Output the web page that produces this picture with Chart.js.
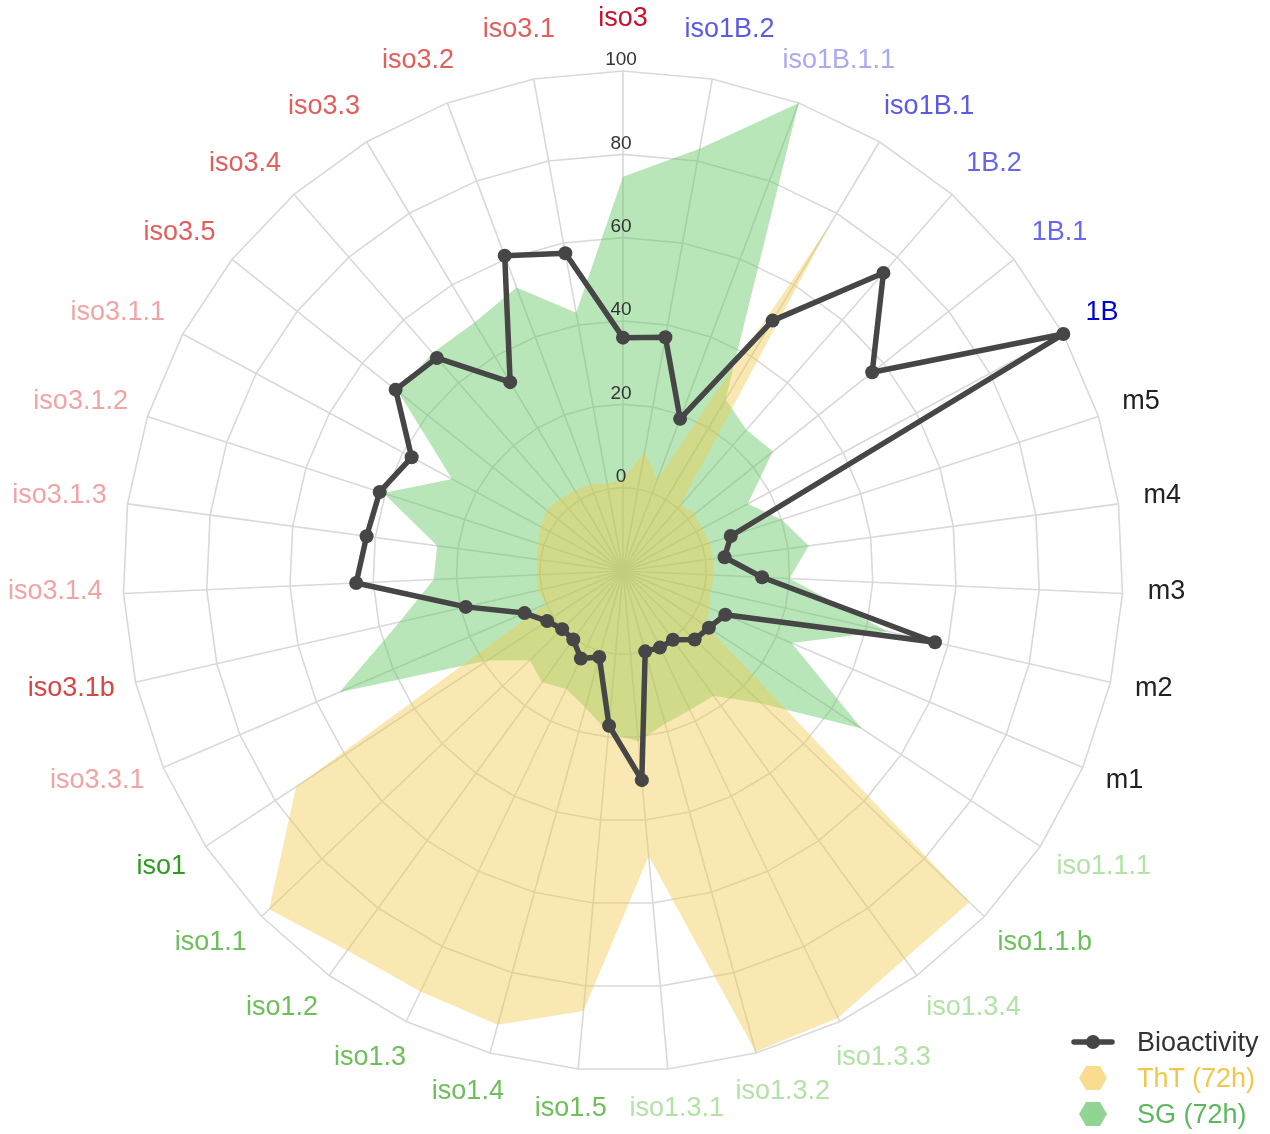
<!DOCTYPE html>
<html>
<head>
<meta charset="utf-8">
<script src="https://cdn.jsdelivr.net/npm/chart.js@4.4.1/dist/chart.umd.min.js"></script>
<style>
  html, body { margin: 0; padding: 0; background: #fff; }
  #wrap { position: relative; width: 1270px; height: 1134px; }
  #legend {
    position: absolute; left: 1070px; top: 1024px;
    font-family: "Liberation Sans", Arial, sans-serif; font-size: 27px;
  }
  .row { display: flex; align-items: center; height: 36px; white-space: nowrap; }
  .sym { width: 46px; height: 30px; margin-right: 21px; }
</style>
</head>
<body>
<div id="wrap">
  <canvas id="radar" width="1270" height="1134"></canvas>
  <div id="legend"></div>
</div>
<script>
const categories = ['iso3', 'iso1B.2', 'iso1B.1.1', 'iso1B.1', '1B.2', '1B.1', '1B',
  'm5', 'm4', 'm3', 'm2', 'm1',
  'iso1.1.1', 'iso1.1.b', 'iso1.3.4', 'iso1.3.3', 'iso1.3.2', 'iso1.3.1',
  'iso1.5', 'iso1.4', 'iso1.3', 'iso1.2', 'iso1.1', 'iso1',
  'iso3.3.1', 'iso3.1b', 'iso3.1.4', 'iso3.1.3', 'iso3.1.2', 'iso3.1.1',
  'iso3.5', 'iso3.4', 'iso3.3', 'iso3.2', 'iso3.1'];

const bioactivity = [36, 37, 19, 50, 75, 56.5, 100, 7.2, 4.6, 13.4, 56.8, 6.7,
  4.7, 3.8, 0.4, 0.4, 0, 30.4, 17.3, 1.4, 3.3, 0.3, 0.2, 1.8,
  5.7, 18.7, 44.1, 42.1, 41.4, 37.6, 49.8, 47.9, 32.8, 60.8, 57.5];

const thtValues = [2, 9, 3.5, 77, 1, 2, 1.6, 2, 1.8, 2, 1.6, 2.5,
  4, 95, 95, 99, 99.7, 48.7, 86, 93, 92, 92.6, 97.5, 74,
  0, 1, 0.6, 1, 1.4, 2.6, 3.4, 3, 2.5, 2.3, 1.3];

const sgValues = [74.6, 83, 100, 28, 25, 26, 14, 20, 25, 20, 45, 24,
  48.6, 26, 17, 17, 18, 21, 19, 14, 11.4, 13, 11, 19,
  54, 35, 25.5, 25, 40.5, 26.6, 49, 49.5, 49.5, 52.7, 43];

const tickValues = [0, 20, 40, 60, 80, 100];

// colour of each category label, same order as categories
const labelColors = ['#c8102e', '#5a5ae6', '#a9a9f2', '#5a5ae6', '#6666ee', '#6666ee', '#0000d8',
  '#222', '#222', '#222', '#222', '#222',
  '#b3e2a6', '#6cbf5a', '#b3e2a6', '#b3e2a6', '#b3e2a6', '#b3e2a6',
  '#6cbf5a', '#6cbf5a', '#6cbf5a', '#6cbf5a', '#6cbf5a', '#2a9d1e',
  '#f2a3a3', '#d94444', '#f2a3a3', '#f2a3a3', '#f2a3a3', '#f2a3a3',
  '#e35d5d', '#e35d5d', '#e35d5d', '#e35d5d', '#e35d5d'];

const FONT = '"Liberation Sans", Arial, sans-serif';

// tick numbers sit just above their ring, category names outside the last ring
const axisText = {
  id: 'axisText',
  afterDraw(chart) {
    const scale = chart.scales.r;
    const ctx = chart.ctx;
    ctx.save();
    ctx.textAlign = 'center';
    ctx.textBaseline = 'middle';

    ctx.font = '19px ' + FONT;
    ctx.fillStyle = '#333';
    tickValues.forEach(v => {
      const p = scale.getPointPositionForValue(0, v);
      ctx.fillText(String(v), p.x - 2, p.y - 11);
    });

    ctx.font = '27px ' + FONT;
    categories.forEach((name, i) => {
      const a = scale.getIndexAngle(i);
      const s = Math.sin(a), c = Math.cos(a);
      const w = ctx.measureText(name).width;
      const p = scale.getPointPosition(i, scale.drawingArea + 28);
      // push the text sideways so it hangs off the anchor like the original
      const shift = 0.85 * Math.min(1, 1.8 * Math.abs(s));
      const dy = c > 0 ? -4 - 8 * c - 120 * Math.max(0, c - 0.9) : -4 - 16 * c;
      ctx.fillStyle = labelColors[i];
      ctx.fillText(name, p.x + Math.sign(s) * (w / 2) * shift, p.y + dy);
    });
    ctx.restore();
  }
};

const ctx = document.getElementById('radar').getContext('2d');

new Chart(ctx, {
  type: 'radar',
  data: {
    labels: categories,
    datasets: [
      {
        label: 'Bioactivity',
        data: bioactivity,
        borderColor: '#464646',
        backgroundColor: '#464646',
        borderWidth: 5.5,
        borderJoinStyle: 'round',
        borderCapStyle: 'round',
        pointRadius: 7,
        pointBackgroundColor: '#464646',
        pointBorderWidth: 0,
        fill: false
      },
      {
        label: 'ThT (72h)',
        data: thtValues,
        backgroundColor: 'rgba(240, 200, 70, 0.42)',
        borderWidth: 0,
        pointRadius: 0,
        fill: 'start'
      },
      {
        label: 'SG (72h)',
        data: sgValues,
        backgroundColor: 'rgba(100, 200, 100, 0.45)',
        borderWidth: 0,
        pointRadius: 0,
        fill: 'start'
      }
    ]
  },
  options: {
    responsive: false,
    animation: false,
    layout: { padding: { left: 123, right: 147, top: 71, bottom: 63 } },
    plugins: {
      legend: { display: false },
      tooltip: { enabled: false }
    },
    scales: {
      r: {
        min: -20,
        max: 100,
        ticks: { display: false, stepSize: 20 },
        pointLabels: { display: false },
        grid: { color: '#d9d9d9', lineWidth: 1.6 },
        angleLines: { color: '#d9d9d9', lineWidth: 1.6 }
      }
    }
  },
  plugins: [axisText]
});

// legend drawn as html in the lower right corner
const legendItems = [
  { name: 'Bioactivity', color: '#333', sym: '<line x1="4" y1="15" x2="42" y2="15" stroke="#464646" stroke-width="5.5" stroke-linecap="round"/><circle cx="23" cy="15" r="7" fill="#464646"/>' },
  { name: 'ThT (72h)', color: '#f0c84c', sym: '<polygon points="9,15 16,3 30,3 37,15 30,27 16,27" fill="#f9dc8e"/>' },
  { name: 'SG (72h)', color: '#5cb85c', sym: '<polygon points="9,15 16,3 30,3 37,15 30,27 16,27" fill="#92d592"/>' }
];
document.getElementById('legend').innerHTML = legendItems.map(it =>
  '<div class="row"><svg class="sym" viewBox="0 0 46 30">' + it.sym + '</svg>' +
  '<span style="color:' + it.color + '">' + it.name + '</span></div>').join('');
</script>
</body>
</html>
